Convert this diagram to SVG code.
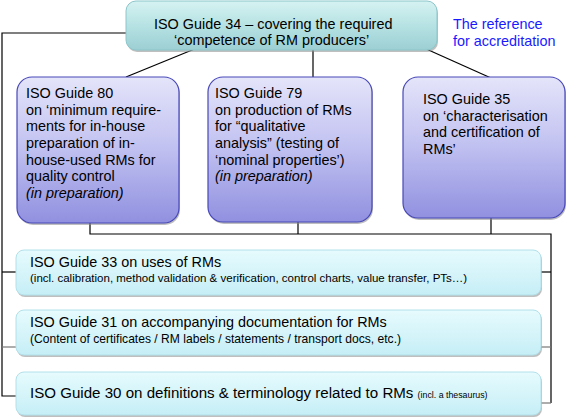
<svg xmlns="http://www.w3.org/2000/svg" width="568" height="420" viewBox="0 0 568 420">
<defs>
<linearGradient id="gTop" x1="0" y1="0" x2="0" y2="1">
<stop offset="0" stop-color="#d6f2f2"/>
<stop offset="0.5" stop-color="#b6e2e3"/>
<stop offset="1" stop-color="#9ccfd3"/>
</linearGradient>
<linearGradient id="gMid" x1="0" y1="0" x2="0" y2="1">
<stop offset="0" stop-color="#e4e4fa"/>
<stop offset="0.45" stop-color="#c4c4f2"/>
<stop offset="1" stop-color="#9090e0"/>
</linearGradient>
<linearGradient id="gBot" x1="0" y1="0" x2="0" y2="1">
<stop offset="0" stop-color="#e6fbfd"/>
<stop offset="1" stop-color="#c6eef6"/>
</linearGradient>
<style>
.t{font-family:"Liberation Sans",Arial,sans-serif;font-size:14.4px;fill:#000}
.s{font-family:"Liberation Sans",Arial,sans-serif;font-size:11.5px;fill:#000}
.i{font-style:italic}
.blue{fill:#1a1aff}
.ln{fill:none;stroke:#000;stroke-width:1.2}
.lg{fill:none;stroke:#777;stroke-width:1.2}
.sh{fill:#8a8a8a;opacity:0.55}
.top{fill:url(#gTop);stroke:#8cc6ca;stroke-width:1}
.mid{fill:url(#gMid);stroke:#4848b8;stroke-width:1.2}
.bot{fill:url(#gBot);stroke:#b2e0ea;stroke-width:1}
</style>
</defs>
<g id="connectors">
<polyline class="ln" points="126,33 2,33 2,396 16,396"/>
<line class="ln" x1="2" y1="272" x2="16" y2="272"/>
<line class="lg" x1="2" y1="347" x2="16" y2="347"/>
<line class="ln" x1="197" y1="48" x2="126" y2="77"/>
<line class="ln" x1="424" y1="48" x2="491" y2="78"/>
<line class="ln" x1="313" y1="50" x2="313" y2="77"/>
<polyline class="ln" points="90,223 90,234 551,234 551,403"/>
<line class="ln" x1="298" y1="222" x2="298" y2="234"/>
<line class="ln" x1="491" y1="218" x2="491" y2="234"/>
<line class="ln" x1="541" y1="272" x2="551" y2="272"/>
<line class="lg" x1="541" y1="347" x2="551" y2="347"/>
<line class="lg" x1="541" y1="403" x2="551" y2="403"/>
</g>
<g id="guide34">
<rect class="sh" x="127" y="3" width="311" height="49" rx="10"/>
<rect class="top" x="126" y="1" width="311" height="49" rx="10"/>
<text class="t" x="154" y="29">ISO Guide 34 – covering the required</text>
<text class="t" x="174" y="45">‘competence of RM producers’</text>
</g>
<g id="accreditation">
<text class="t blue" x="453" y="29">The reference</text>
<text class="t blue" x="453" y="46">for accreditation</text>
</g>
<g id="guide80">
<rect class="sh" x="18" y="79" width="162" height="146" rx="15"/>
<rect class="mid" x="17" y="77" width="162" height="146" rx="15"/>
<text class="t" x="26" y="98">ISO Guide 80</text>
<text class="t" x="26" y="114.7">on ‘minimum require-</text>
<text class="t" x="26" y="131.3">ments for in-house</text>
<text class="t" x="26" y="148">preparation of in-</text>
<text class="t" x="26" y="164.7">house-used RMs for</text>
<text class="t" x="26" y="181.3">quality control</text>
<text class="t i" x="26" y="198">(in preparation)</text>
</g>
<g id="guide79">
<rect class="sh" x="209" y="79" width="164" height="145" rx="15"/>
<rect class="mid" x="208" y="77" width="164" height="145" rx="15"/>
<text class="t" x="215" y="98">ISO Guide 79</text>
<text class="t" x="215" y="114.7">on production of RMs</text>
<text class="t" x="215" y="131.3">for “qualitative</text>
<text class="t" x="215" y="148">analysis” (testing of</text>
<text class="t" x="215" y="164.7">‘nominal properties’)</text>
<text class="t i" x="215" y="181.3">(in preparation)</text>
</g>
<g id="guide35">
<rect class="sh" x="404" y="79" width="162" height="141" rx="15"/>
<rect class="mid" x="403" y="77" width="162" height="141" rx="15"/>
<text class="t" x="423" y="104">ISO Guide 35</text>
<text class="t" x="423" y="120.7">on ‘characterisation</text>
<text class="t" x="423" y="137.3">and certification of</text>
<text class="t" x="423" y="154">RMs’</text>
</g>
<g id="guide33">
<rect class="sh" x="17" y="252" width="525" height="45" rx="8"/>
<rect class="bot" x="16" y="250" width="525" height="45" rx="8"/>
<text class="t" x="30" y="267">ISO Guide 33 on uses of RMs</text>
<text class="s" x="30" y="282">(incl. calibration, method validation &amp; verification, control charts, value transfer, PTs…)</text>
</g>
<g id="guide31">
<rect class="sh" x="17" y="312" width="525" height="45" rx="8"/>
<rect class="bot" x="16" y="310" width="525" height="45" rx="8"/>
<text class="t" x="30" y="327">ISO Guide 31 on accompanying documentation for RMs</text>
<text class="s" x="30" y="343" style="font-size:12.1px">(Content of certificates / RM labels / statements / transport docs, etc.)</text>
</g>
<g id="guide30">
<rect class="sh" x="17" y="374" width="525" height="43" rx="8"/>
<rect class="bot" x="16" y="372" width="525" height="43" rx="8"/>
<text class="t" x="30" y="398" style="font-size:15.1px">ISO Guide 30 on definitions &amp; terminology related to RMs <tspan class="s" style="font-size:8.8px">(incl. a thesaurus)</tspan></text>
</g>
</svg>
